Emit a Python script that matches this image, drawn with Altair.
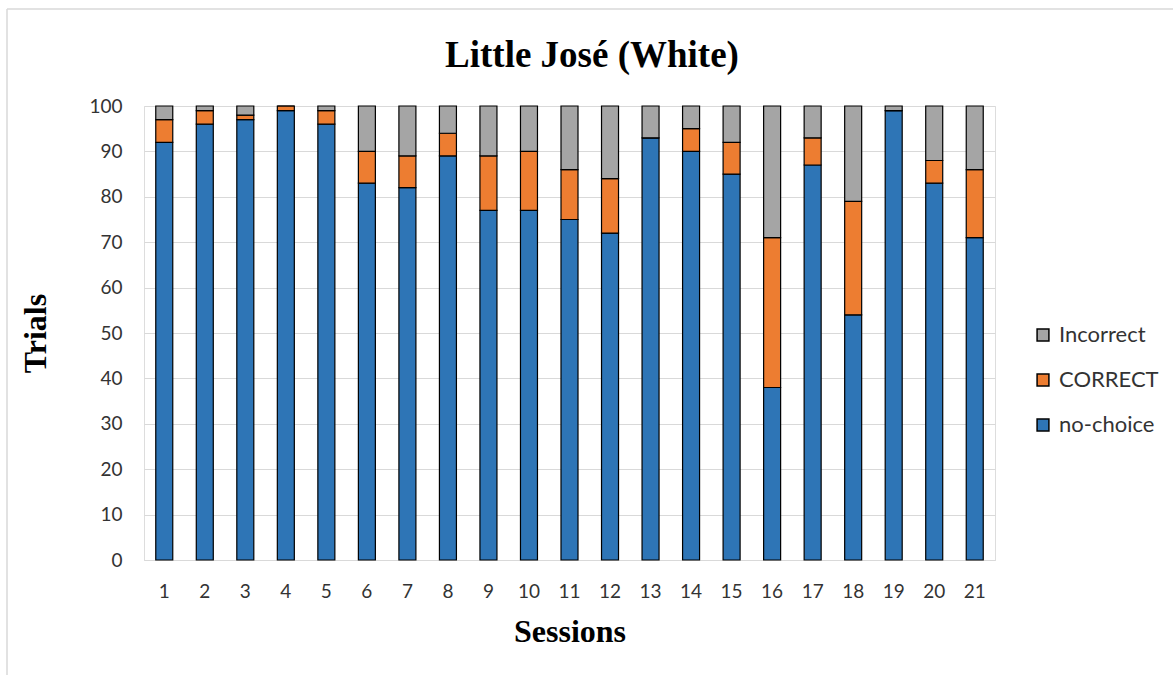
import altair as alt
import pandas as pd

# Trials per session, split by response type
sessions = list(range(1, 22))
no_choice = [92, 96, 97, 99, 96, 83, 82, 89, 77, 77, 75, 72, 93, 90, 85, 38, 87, 54, 99, 83, 71]
correct = [5, 3, 1, 1, 3, 7, 7, 5, 12, 13, 11, 12, 0, 5, 7, 33, 6, 25, 0, 5, 15]
incorrect = [3, 1, 2, 0, 1, 10, 11, 6, 11, 10, 14, 16, 7, 5, 8, 29, 7, 21, 1, 12, 14]

series_names = ["no-choice", "CORRECT", "Incorrect"]
series_values = [no_choice, correct, incorrect]
legend_order = ["Incorrect", "CORRECT", "no-choice"]
legend_colors = ["#A5A5A5", "#ED7D31", "#2E75B6"]
chart_title = "Little José (White)"

rows = []
for stack_pos, (name, vals) in enumerate(zip(series_names, series_values)):
    for s, v in zip(sessions, vals):
        rows.append({"Session": str(s), "Type": name, "Trials": v, "pos": stack_pos})
df = pd.DataFrame(rows)

bars = alt.Chart(df).mark_bar(size=17, stroke="black", strokeWidth=1.2).encode(
    x=alt.X(
        "Session:N",
        sort=[str(s) for s in sessions],
        title="Sessions",
        axis=alt.Axis(
            labelAngle=0,
            labelFont="Lato",
            labelFontSize=19,
            labelColor="#333333",
            labelPadding=22,
            ticks=False,
            domainColor="#D9D9D9",
            titleFont="Liberation Serif",
            titleFontSize=32,
            titleFontWeight="bold",
            titleColor="black",
            titlePadding=15,
        ),
    ),
    y=alt.Y(
        "Trials:Q",
        stack="zero",
        scale=alt.Scale(domain=[0, 100], nice=False),
        title="Trials",
        axis=alt.Axis(
            values=list(range(0, 101, 10)),
            labelFont="Lato",
            labelFontSize=19,
            labelColor="#333333",
            labelPadding=22,
            ticks=False,
            domain=False,
            gridColor="#D9D9D9",
            gridWidth=1,
            titleFont="Liberation Serif",
            titleFontSize=32,
            titleFontWeight="bold",
            titleColor="black",
            titlePadding=36,
        ),
    ),
    color=alt.Color(
        "Type:N",
        scale=alt.Scale(domain=legend_order, range=legend_colors),
        legend=alt.Legend(
            title=None,
            orient="none",
            legendX=888,
            legendY=218,
            symbolType="square",
            symbolSize=140,
            symbolStrokeColor="black",
            symbolStrokeWidth=1.5,
            symbolOpacity=1,
            labelFont="Lato",
            labelFontSize=22,
            labelColor="#333333",
            labelOffset=5,
            rowPadding=23,
        ),
    ),
    order=alt.Order("pos:Q", sort="ascending"),
)

# Chart heading, centred on the chart area
heading = alt.Chart(pd.DataFrame({"t": [chart_title]})).mark_text(
    font="Liberation Serif", fontSize=37, fontWeight="bold", color="black",
    align="center", baseline="middle",
).encode(text="t:N", x=alt.value(448), y=alt.value(-50))

# Light chart-area frame
frame_left = alt.Chart().mark_rule(color="#D9D9D9", strokeWidth=1.5).encode(
    x=alt.value(-137), y=alt.value(-97), y2=alt.value(569)
)
frame_top = alt.Chart().mark_rule(color="#D9D9D9", strokeWidth=1.5).encode(
    x=alt.value(-137), x2=alt.value(1029), y=alt.value(-97)
)

chart = alt.layer(frame_left, frame_top, bars, heading).properties(
    width=851,
    height=454,
    padding={"left": 144, "top": 106, "right": 178, "bottom": 115},
    autosize=alt.AutoSizeParams(type="none"),
).configure_view(stroke=None).configure(background="white")

chart.save("out.html", embed_options={"renderer": "svg", "actions": False})
